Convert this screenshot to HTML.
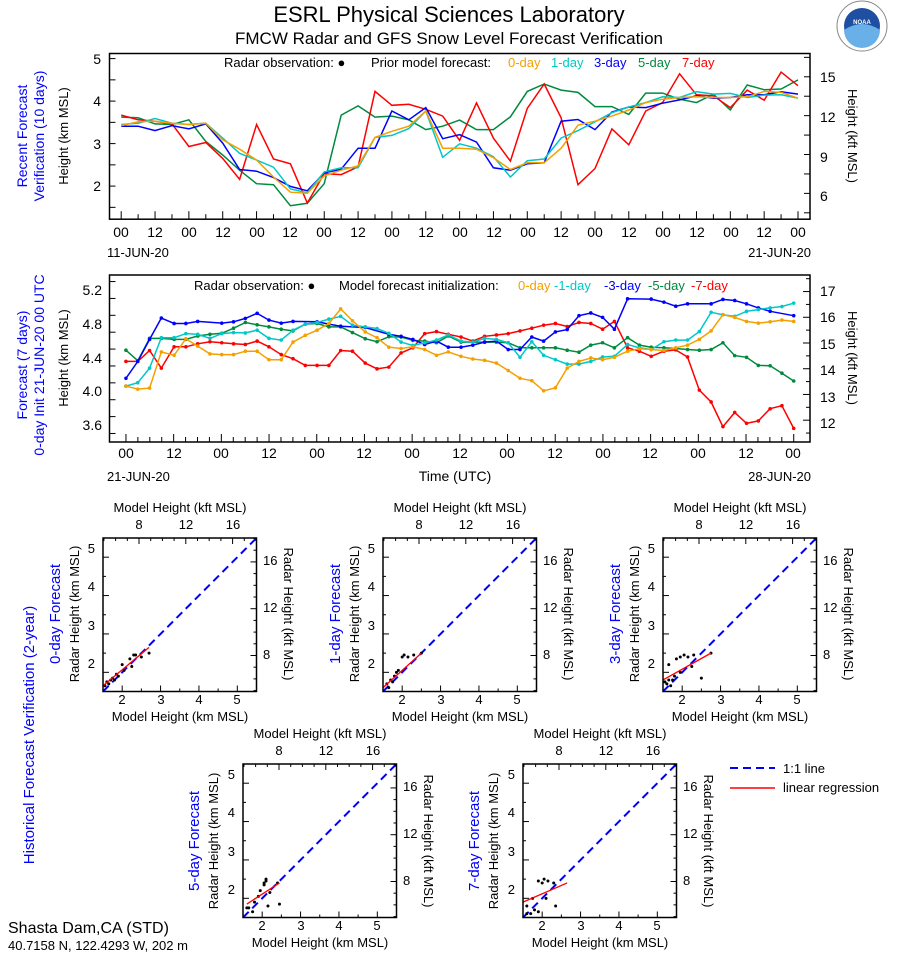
<!DOCTYPE html>
<html><head><meta charset="utf-8"><style>
html,body{margin:0;padding:0;background:#fff;}
svg{display:block;font-family:"Liberation Sans",sans-serif;}
</style></head><body>
<svg id="s" width="898" height="956" viewBox="0 0 898 956" xmlns="http://www.w3.org/2000/svg">
<rect width="898" height="956" fill="#fff"/>
<text x="449" y="22" font-size="22" text-anchor="middle">ESRL Physical Sciences Laboratory</text>
<text x="449" y="44" font-size="17" text-anchor="middle">FMCW Radar and GFS Snow Level Forecast Verification</text>
<circle cx="862" cy="26" r="25" fill="#fff" stroke="#888" stroke-width="1"/>
<circle cx="862" cy="26" r="18" fill="#1f4fa0"/>
<path d="M844 30 Q862 18 880 30 A18 18 0 0 1 844 30Z" fill="#6ab0e8"/>
<text x="862" y="24" font-size="6" fill="#fff" text-anchor="middle" font-weight="bold">NOAA</text>

<text transform="translate(27,136) rotate(-90)" font-size="14" fill="#0000ff" text-anchor="middle">Recent Forecast</text>
<text transform="translate(44,136) rotate(-90)" font-size="14" fill="#0000ff" text-anchor="middle">Verification (10 days)</text>
<text transform="translate(68,136) rotate(-90)" font-size="13" text-anchor="middle">Height (km MSL)</text>
<text transform="translate(848,136) rotate(90)" font-size="13" text-anchor="middle">Height (kft MSL)</text>
<g font-size="14" text-anchor="end"><text x="101" y="64">5</text><text x="101" y="106">4</text><text x="101" y="149">3</text><text x="101" y="191">2</text></g>
<g font-size="14"><text x="820" y="82">15</text><text x="820" y="122">12</text><text x="820" y="162">9</text><text x="820" y="201">6</text></g>
<g font-size="14" text-anchor="middle">
<text x="121" y="237">00</text><text x="155" y="237">12</text><text x="189" y="237">00</text><text x="223" y="237">12</text><text x="257" y="237">00</text><text x="290" y="237">12</text><text x="324" y="237">00</text><text x="358" y="237">12</text><text x="392" y="237">00</text><text x="426" y="237">12</text><text x="460" y="237">00</text><text x="494" y="237">12</text><text x="528" y="237">00</text><text x="561" y="237">12</text><text x="595" y="237">00</text><text x="629" y="237">12</text><text x="663" y="237">00</text><text x="697" y="237">12</text><text x="731" y="237">00</text><text x="764" y="237">12</text><text x="798" y="237">00</text>
</g>
<text x="107" y="257" font-size="13">11-JUN-20</text>
<text x="811" y="257" font-size="13" text-anchor="end">21-JUN-20</text>
<g font-size="13"><text x="224" y="67">Radar observation: ●</text><text x="371" y="67">Prior model forecast:</text>
<text x="508" y="67" fill="#f5a000">0-day</text><text x="551" y="67" fill="#00c8c8">1-day</text><text x="594" y="67" fill="#0000ff">3-day</text><text x="638" y="67" fill="#008a3e">5-day</text><text x="682" y="67" fill="#ff0000">7-day</text></g>

<text transform="translate(27,365) rotate(-90)" font-size="14" fill="#0000ff" text-anchor="middle">Forecast (7 days)</text>
<text transform="translate(44,365) rotate(-90)" font-size="14" fill="#0000ff" text-anchor="middle">0-day Init 21-JUN-20 00 UTC</text>
<text transform="translate(68,358) rotate(-90)" font-size="13" text-anchor="middle">Height (km MSL)</text>
<text transform="translate(848,358) rotate(90)" font-size="13" text-anchor="middle">Height (kft MSL)</text>
<g font-size="14" text-anchor="end"><text x="102" y="295">5.2</text><text x="102" y="329">4.8</text><text x="102" y="363">4.4</text><text x="102" y="396">4.0</text><text x="102" y="430">3.6</text></g>
<g font-size="14"><text x="820" y="296">17</text><text x="820" y="322">16</text><text x="820" y="349">15</text><text x="820" y="375">14</text><text x="820" y="402">13</text><text x="820" y="428">12</text></g>
<g font-size="14" text-anchor="middle">
<text x="126" y="458">00</text><text x="174" y="458">12</text><text x="221" y="458">00</text><text x="269" y="458">12</text><text x="317" y="458">00</text><text x="364" y="458">12</text><text x="412" y="458">00</text><text x="460" y="458">12</text><text x="507" y="458">00</text><text x="555" y="458">12</text><text x="603" y="458">00</text><text x="650" y="458">12</text><text x="698" y="458">00</text><text x="746" y="458">12</text><text x="793" y="458">00</text>
</g>
<text x="107" y="481" font-size="13">21-JUN-20</text>
<text x="811" y="481" font-size="13" text-anchor="end">28-JUN-20</text>
<text x="455" y="481" font-size="14" text-anchor="middle">Time (UTC)</text>
<g font-size="13"><text x="194" y="290">Radar observation: ●</text><text x="339" y="290">Model forecast initialization:</text>
<text x="518" y="290" fill="#f5a000">0-day</text><text x="554" y="290" fill="#00c8c8">-1-day</text><text x="604" y="290" fill="#0000ff">-3-day</text><text x="648" y="290" fill="#008a3e">-5-day</text><text x="691" y="290" fill="#ff0000">-7-day</text></g>

<text transform="translate(34,735) rotate(-90)" font-size="15" fill="#0000ff" text-anchor="middle">Historical Forecast Verification (2-year)</text>
<g font-size="13">
<text x="180" y="512" text-anchor="middle">Model Height (kft MSL)</text>
<text x="180" y="721" text-anchor="middle">Model Height (km MSL)</text>
<text transform="translate(60,614) rotate(-90)" font-size="15" fill="#0000ff" text-anchor="middle">0-day Forecast</text>
<text transform="translate(79,614) rotate(-90)" text-anchor="middle">Radar Height (km MSL)</text>
<text transform="translate(284,614) rotate(90)" text-anchor="middle">Radar Height (kft MSL)</text>
<text x="460" y="512" text-anchor="middle">Model Height (kft MSL)</text>
<text x="460" y="721" text-anchor="middle">Model Height (km MSL)</text>
<text transform="translate(340,614) rotate(-90)" font-size="15" fill="#0000ff" text-anchor="middle">1-day Forecast</text>
<text transform="translate(359,614) rotate(-90)" text-anchor="middle">Radar Height (km MSL)</text>
<text transform="translate(564,614) rotate(90)" text-anchor="middle">Radar Height (kft MSL)</text>
<text x="740" y="512" text-anchor="middle">Model Height (kft MSL)</text>
<text x="740" y="721" text-anchor="middle">Model Height (km MSL)</text>
<text transform="translate(620,614) rotate(-90)" font-size="15" fill="#0000ff" text-anchor="middle">3-day Forecast</text>
<text transform="translate(639,614) rotate(-90)" text-anchor="middle">Radar Height (km MSL)</text>
<text transform="translate(844,614) rotate(90)" text-anchor="middle">Radar Height (kft MSL)</text>
<text x="320" y="738" text-anchor="middle">Model Height (kft MSL)</text>
<text x="320" y="947" text-anchor="middle">Model Height (km MSL)</text>
<text transform="translate(199,841) rotate(-90)" font-size="15" fill="#0000ff" text-anchor="middle">5-day Forecast</text>
<text transform="translate(218,841) rotate(-90)" text-anchor="middle">Radar Height (km MSL)</text>
<text transform="translate(424,841) rotate(90)" text-anchor="middle">Radar Height (kft MSL)</text>
<text x="600" y="738" text-anchor="middle">Model Height (kft MSL)</text>
<text x="600" y="947" text-anchor="middle">Model Height (km MSL)</text>
<text transform="translate(479,841) rotate(-90)" font-size="15" fill="#0000ff" text-anchor="middle">7-day Forecast</text>
<text transform="translate(498,841) rotate(-90)" text-anchor="middle">Radar Height (km MSL)</text>
<text transform="translate(704,841) rotate(90)" text-anchor="middle">Radar Height (kft MSL)</text>
</g>
<g font-size="13" text-anchor="middle">
<g transform="translate(0,0)"><text x="122" y="704">2</text><text x="161" y="704">3</text><text x="199" y="704">4</text><text x="237" y="704">5</text><text x="139" y="529">8</text><text x="186" y="529">12</text><text x="233" y="529">16</text><text x="95" y="553" text-anchor="end">5</text><text x="95" y="591" text-anchor="end">4</text><text x="95" y="630" text-anchor="end">3</text><text x="95" y="668" text-anchor="end">2</text><text x="263" y="565" text-anchor="start">16</text><text x="263" y="612" text-anchor="start">12</text><text x="263" y="659" text-anchor="start">8</text></g>
<g transform="translate(280,0)"><text x="122" y="704">2</text><text x="161" y="704">3</text><text x="199" y="704">4</text><text x="237" y="704">5</text><text x="139" y="529">8</text><text x="186" y="529">12</text><text x="233" y="529">16</text><text x="95" y="553" text-anchor="end">5</text><text x="95" y="591" text-anchor="end">4</text><text x="95" y="630" text-anchor="end">3</text><text x="95" y="668" text-anchor="end">2</text><text x="263" y="565" text-anchor="start">16</text><text x="263" y="612" text-anchor="start">12</text><text x="263" y="659" text-anchor="start">8</text></g>
<g transform="translate(560,0)"><text x="122" y="704">2</text><text x="161" y="704">3</text><text x="199" y="704">4</text><text x="237" y="704">5</text><text x="139" y="529">8</text><text x="186" y="529">12</text><text x="233" y="529">16</text><text x="95" y="553" text-anchor="end">5</text><text x="95" y="591" text-anchor="end">4</text><text x="95" y="630" text-anchor="end">3</text><text x="95" y="668" text-anchor="end">2</text><text x="263" y="565" text-anchor="start">16</text><text x="263" y="612" text-anchor="start">12</text><text x="263" y="659" text-anchor="start">8</text></g>
<g transform="translate(140,226)"><text x="122" y="704">2</text><text x="161" y="704">3</text><text x="199" y="704">4</text><text x="237" y="704">5</text><text x="139" y="529">8</text><text x="186" y="529">12</text><text x="233" y="529">16</text><text x="95" y="553" text-anchor="end">5</text><text x="95" y="591" text-anchor="end">4</text><text x="95" y="630" text-anchor="end">3</text><text x="95" y="668" text-anchor="end">2</text><text x="263" y="565" text-anchor="start">16</text><text x="263" y="612" text-anchor="start">12</text><text x="263" y="659" text-anchor="start">8</text></g>
<g transform="translate(420,226)"><text x="122" y="704">2</text><text x="161" y="704">3</text><text x="199" y="704">4</text><text x="237" y="704">5</text><text x="139" y="529">8</text><text x="186" y="529">12</text><text x="233" y="529">16</text><text x="95" y="553" text-anchor="end">5</text><text x="95" y="591" text-anchor="end">4</text><text x="95" y="630" text-anchor="end">3</text><text x="95" y="668" text-anchor="end">2</text><text x="263" y="565" text-anchor="start">16</text><text x="263" y="612" text-anchor="start">12</text><text x="263" y="659" text-anchor="start">8</text></g>
</g>
<line x1="730" y1="768" x2="775" y2="768" stroke="#0000ff" stroke-width="2" stroke-dasharray="8,5"/>
<text x="783" y="773" font-size="13">1:1 line</text>
<line x1="730" y1="788" x2="775" y2="788" stroke="#ff0000" stroke-width="1.5"/>
<text x="783" y="792" font-size="13">linear regression</text>
<text x="8" y="933" font-size="16">Shasta Dam,CA (STD)</text>
<text x="8" y="950" font-size="13">40.7158 N, 122.4293 W, 202 m</text>
<g id="g"></g>
</svg>
<script>
(function(){
var NS="http://www.w3.org/2000/svg",G=document.getElementById("g");
function el(t,a){var e=document.createElementNS(NS,t);for(var k in a)e.setAttribute(k,a[k]);G.appendChild(e);return e;}
function line(x1,y1,x2,y2,c,w,d){var a={x1:x1,y1:y1,x2:x2,y2:y2,stroke:c||"#000","stroke-width":w||1};if(d)a["stroke-dasharray"]=d;el("line",a);}
function poly(p,c,w){el("polyline",{points:p.map(function(q){return q[0].toFixed(1)+","+q[1].toFixed(1)}).join(" "),fill:"none",stroke:c,"stroke-width":w||1.5});}
var C={o:"#f5a000",c:"#00c8c8",b:"#0000ff",g:"#008a3e",r:"#ff0000"};
var tx=function(i){return 121.2+16.92*i},ty=function(zy){return 40+zy/2.957};
var T={
g:[228,230,248,250,236,300,340,385,425,428,490,483,425,222,195,228,225,236,265,255,237,265,265,227,152,130,148,155,197,197,220,157,157,175,185,160,207,133,147,145,118],
r:[222,236,240,248,315,303,350,412,250,352,366,482,395,398,375,152,193,190,205,225,297,186,290,358,202,130,230,428,380,263,310,210,185,100,162,165,200,148,178,95,135],
b:[255,255,268,253,263,248,305,383,388,407,433,446,393,382,320,320,210,236,200,292,280,302,378,385,366,363,240,235,265,213,198,200,187,177,165,172,170,162,162,153,160],
c:[250,246,232,246,250,246,290,335,355,376,440,452,390,378,378,288,282,262,210,347,307,320,345,405,357,352,290,268,242,215,198,185,168,170,153,160,158,170,163,162,172],
o:[253,242,240,246,250,246,295,323,355,405,450,453,402,385,372,288,270,255,210,320,320,323,348,383,363,363,320,252,240,225,207,185,175,170,168,170,170,168,152,155,172]};
["g","r","b","c","o"].forEach(function(k){poly(T[k].map(function(v,i){return[tx(i),ty(v)]}),C[k],1.5);});
var L=109.5,R=810,TT=53.5,TB=219.2;
el("rect",{x:L,y:TT,width:R-L,height:TB-TT,fill:"none",stroke:"#000","stroke-width":1.5});
for(var i=0;i<=40;i++){line(tx(i),TB,tx(i),TB-(i%2?5:8));}
for(var k=1.5;k<=5.01;k+=0.5){var y=58.6+(5-k)*42.5;line(L,y,L+6,y);}
for(var f=4.5;f<=16.6;f+=1.5){var y=58.6+(5-f*0.3048)*42.5;if(y>TT&&y<TB)line(R,y,R-6,y);}
var mx=function(zx){return 100+zx/2.119},my=function(zy){return 270+zy/2.955};
var M={
b:[[55,320],[80,270],[105,205],[130,142],[157,158],[182,158],[207,152],[258,157],[283,153],[308,143],[333,128],[358,148],[384,157],[409,152],[460,153],[485,160],[510,166],[562,170],[612,190],[638,196],[663,205],[688,220],[713,210],[738,228],[765,228],[790,222],[815,213],[840,210],[865,235],[890,235],[915,198],[940,210],[965,183],[990,176],[1015,135],[1040,127],[1065,140],[1090,175],[1118,85],[1168,86],[1195,95],[1220,107],[1245,100],[1295,100],[1320,87],[1345,90],[1370,100],[1395,112],[1420,122],[1470,135]],
o:[[55,343],[80,352],[105,349],[130,242],[157,252],[182,203],[207,225],[233,248],[258,250],[283,250],[308,240],[333,240],[358,265],[384,265],[409,213],[435,193],[460,178],[485,158],[510,115],[535,150],[562,183],[587,200],[612,228],[638,232],[663,227],[688,235],[713,252],[738,242],[765,255],[790,263],[815,267],[840,275],[865,297],[890,320],[915,327],[940,357],[965,348],[990,290],[1015,270],[1040,260],[1065,265],[1090,258],[1118,240],[1143,233],[1168,235],[1195,238],[1220,230],[1245,222],[1270,205],[1295,180],[1320,132],[1345,140],[1370,152],[1395,157],[1420,153],[1445,148],[1470,152]],
c:[[55,343],[80,333],[105,290],[130,200],[157,200],[182,188],[207,190],[233,202],[258,188],[283,185],[308,186],[333,178],[358,202],[384,207],[409,178],[435,160],[460,155],[485,145],[510,137],[535,163],[562,168],[587,173],[612,187],[638,213],[663,223],[688,215],[713,207],[738,192],[765,210],[790,213],[815,202],[840,205],[865,215],[890,258],[915,212],[940,252],[965,265],[990,278],[1015,278],[1040,270],[1065,257],[1090,255],[1118,220],[1143,230],[1168,235],[1195,212],[1220,207],[1245,207],[1270,182],[1295,125],[1320,132],[1345,137],[1370,122],[1395,117],[1420,112],[1445,108],[1470,98]],
g:[[55,237],[80,268],[105,202],[130,202],[157,205],[182,205],[207,195],[233,190],[258,187],[283,172],[308,155],[333,162],[358,168],[384,175],[409,180],[435,160],[460,158],[485,168],[510,168],[535,185],[562,203],[587,212],[612,197],[638,198],[663,208],[688,210],[713,215],[738,195],[765,213],[790,213],[815,213],[840,213],[865,215],[890,230],[915,230],[940,230],[965,230],[990,237],[1015,243],[1040,222],[1065,215],[1090,230],[1118,200],[1143,222],[1168,228],[1195,230],[1220,232],[1245,235],[1270,237],[1295,235],[1320,215],[1345,253],[1370,258],[1395,282],[1420,283],[1445,305],[1470,328]],
r:[[55,270],[80,270],[105,238],[130,290],[157,227],[182,227],[207,218],[233,212],[258,215],[283,218],[308,220],[333,210],[358,227],[384,250],[409,262],[435,282],[460,282],[485,282],[510,238],[535,240],[562,275],[587,292],[612,287],[638,245],[663,230],[688,188],[713,182],[738,190],[765,198],[790,210],[815,196],[840,192],[865,188],[890,180],[915,172],[940,163],[965,158],[990,167],[1015,155],[1040,158],[1065,175],[1090,152],[1118,230],[1143,240],[1168,255],[1195,240],[1220,236],[1245,257],[1270,355],[1295,390],[1320,463],[1345,421],[1370,453],[1395,446],[1420,410],[1445,401],[1470,468]]};
["r","g","b","c","o"].forEach(function(k){var p=M[k].map(function(q){return[mx(q[0]),my(q[1])]});poly(p,C[k],1.5);p.forEach(function(q){el("circle",{cx:q[0],cy:q[1],r:1.8,fill:C[k]});});});
var MT=275,MB=442;
el("rect",{x:L,y:MT,width:R-L,height:MB-MT,fill:"none",stroke:"#000","stroke-width":1.5});
for(var i=0;i<=56;i++){var x=mx(55+1415/56*i);line(x,MB,x,MB-(i%4?5:8));}
for(var k=3.5;k<=5.31;k+=0.2){var y=290+(5.2-k)*84.4;if(y>MT&&y<MB)line(L,y,L+6,y);}
for(var f=11.5;f<=17.6;f+=0.5){var y=290+(5.2-f*0.3048)*84.4;if(y>MT&&y<MB)line(R,y,R-(f%1?4:7),y);}
var SP=[[103,538,[[1.5,1.65],[2.7,2.65]],[[1.55,1.65],[1.6,1.75],[1.7,1.8],[1.75,1.85],[1.8,1.8],[1.85,1.95],[1.9,1.9],[2.0,2.2],[2.05,2.05],[2.2,2.35],[2.25,2.15],[2.3,2.45],[2.35,2.45],[2.5,2.4],[2.7,2.5],[1.65,1.7]]],
[383,538,[[1.5,1.6],[2.5,2.5]],[[1.6,1.7],[1.7,1.8],[1.8,1.9],[1.85,2.0],[1.9,2.05],[2.0,2.4],[2.05,2.45],[2.15,2.4],[2.3,2.45],[2.5,2.5],[1.65,1.6],[1.75,1.75]]],
[663,538,[[1.5,1.8],[2.75,2.5]],[[1.55,1.75],[1.6,1.7],[1.65,1.8],[1.7,1.65],[1.75,1.8],[1.8,1.9],[1.65,2.2],[1.85,2.35],[1.95,2.4],[2.05,2.45],[2.15,2.4],[2.3,2.45],[2.25,2.15],[2.5,1.85],[2.75,2.5],[1.95,2.0]]],
[243,764,[[1.6,1.85],[2.45,2.4]],[[1.6,1.75],[1.65,1.75],[1.75,1.65],[1.8,1.9],[1.9,2.05],[1.95,2.2],[2.05,2.4],[2.1,2.45],[2.1,2.5],[2.15,1.8],[2.2,2.15],[2.45,1.85],[2.4,2.4],[2.05,2.35]]],
[523,764,[[1.5,1.9],[2.65,2.4]],[[1.6,1.6],[1.7,1.6],[1.8,1.7],[1.9,2.45],[2.0,2.4],[2.15,2.45],[2.3,2.4],[2.1,2.0],[1.75,2.0],[2.35,1.8],[1.6,1.8],[1.9,1.65],[2.05,2.5]]]];
SP.forEach(function(s){var x0=s[0],y0=s[1],W=153.5;
var X=function(v){return x0+(v-1.5)*W/4},Y=function(v){return y0+W-(v-1.5)*W/4};
line(X(1.5),Y(1.5),X(5.5),Y(5.5),"#0000ff",2,"8,5");
s[3].forEach(function(p){el("circle",{cx:X(p[0]),cy:Y(p[1]),r:1.5,fill:"#000"});});
line(X(s[2][0][0]),Y(s[2][0][1]),X(s[2][1][0]),Y(s[2][1][1]),"#ff0000",1.3);
el("rect",{x:x0,y:y0,width:W,height:W,fill:"none",stroke:"#000","stroke-width":1.5});
for(var k=2;k<=5.01;k+=0.5){var t=(k%1)?3:6;line(X(k),y0+W,X(k),y0+W-t);line(x0,Y(k),x0+t,Y(k));}
for(var f=5;f<=18;f+=1){var v=f*0.3048;if(v>1.5&&v<5.5){var t=(f%4)?3:6;line(X(v),y0,X(v),y0+t);line(x0+W,Y(v),x0+W-t,Y(v));}}
});
})();
</script>
</body></html>
